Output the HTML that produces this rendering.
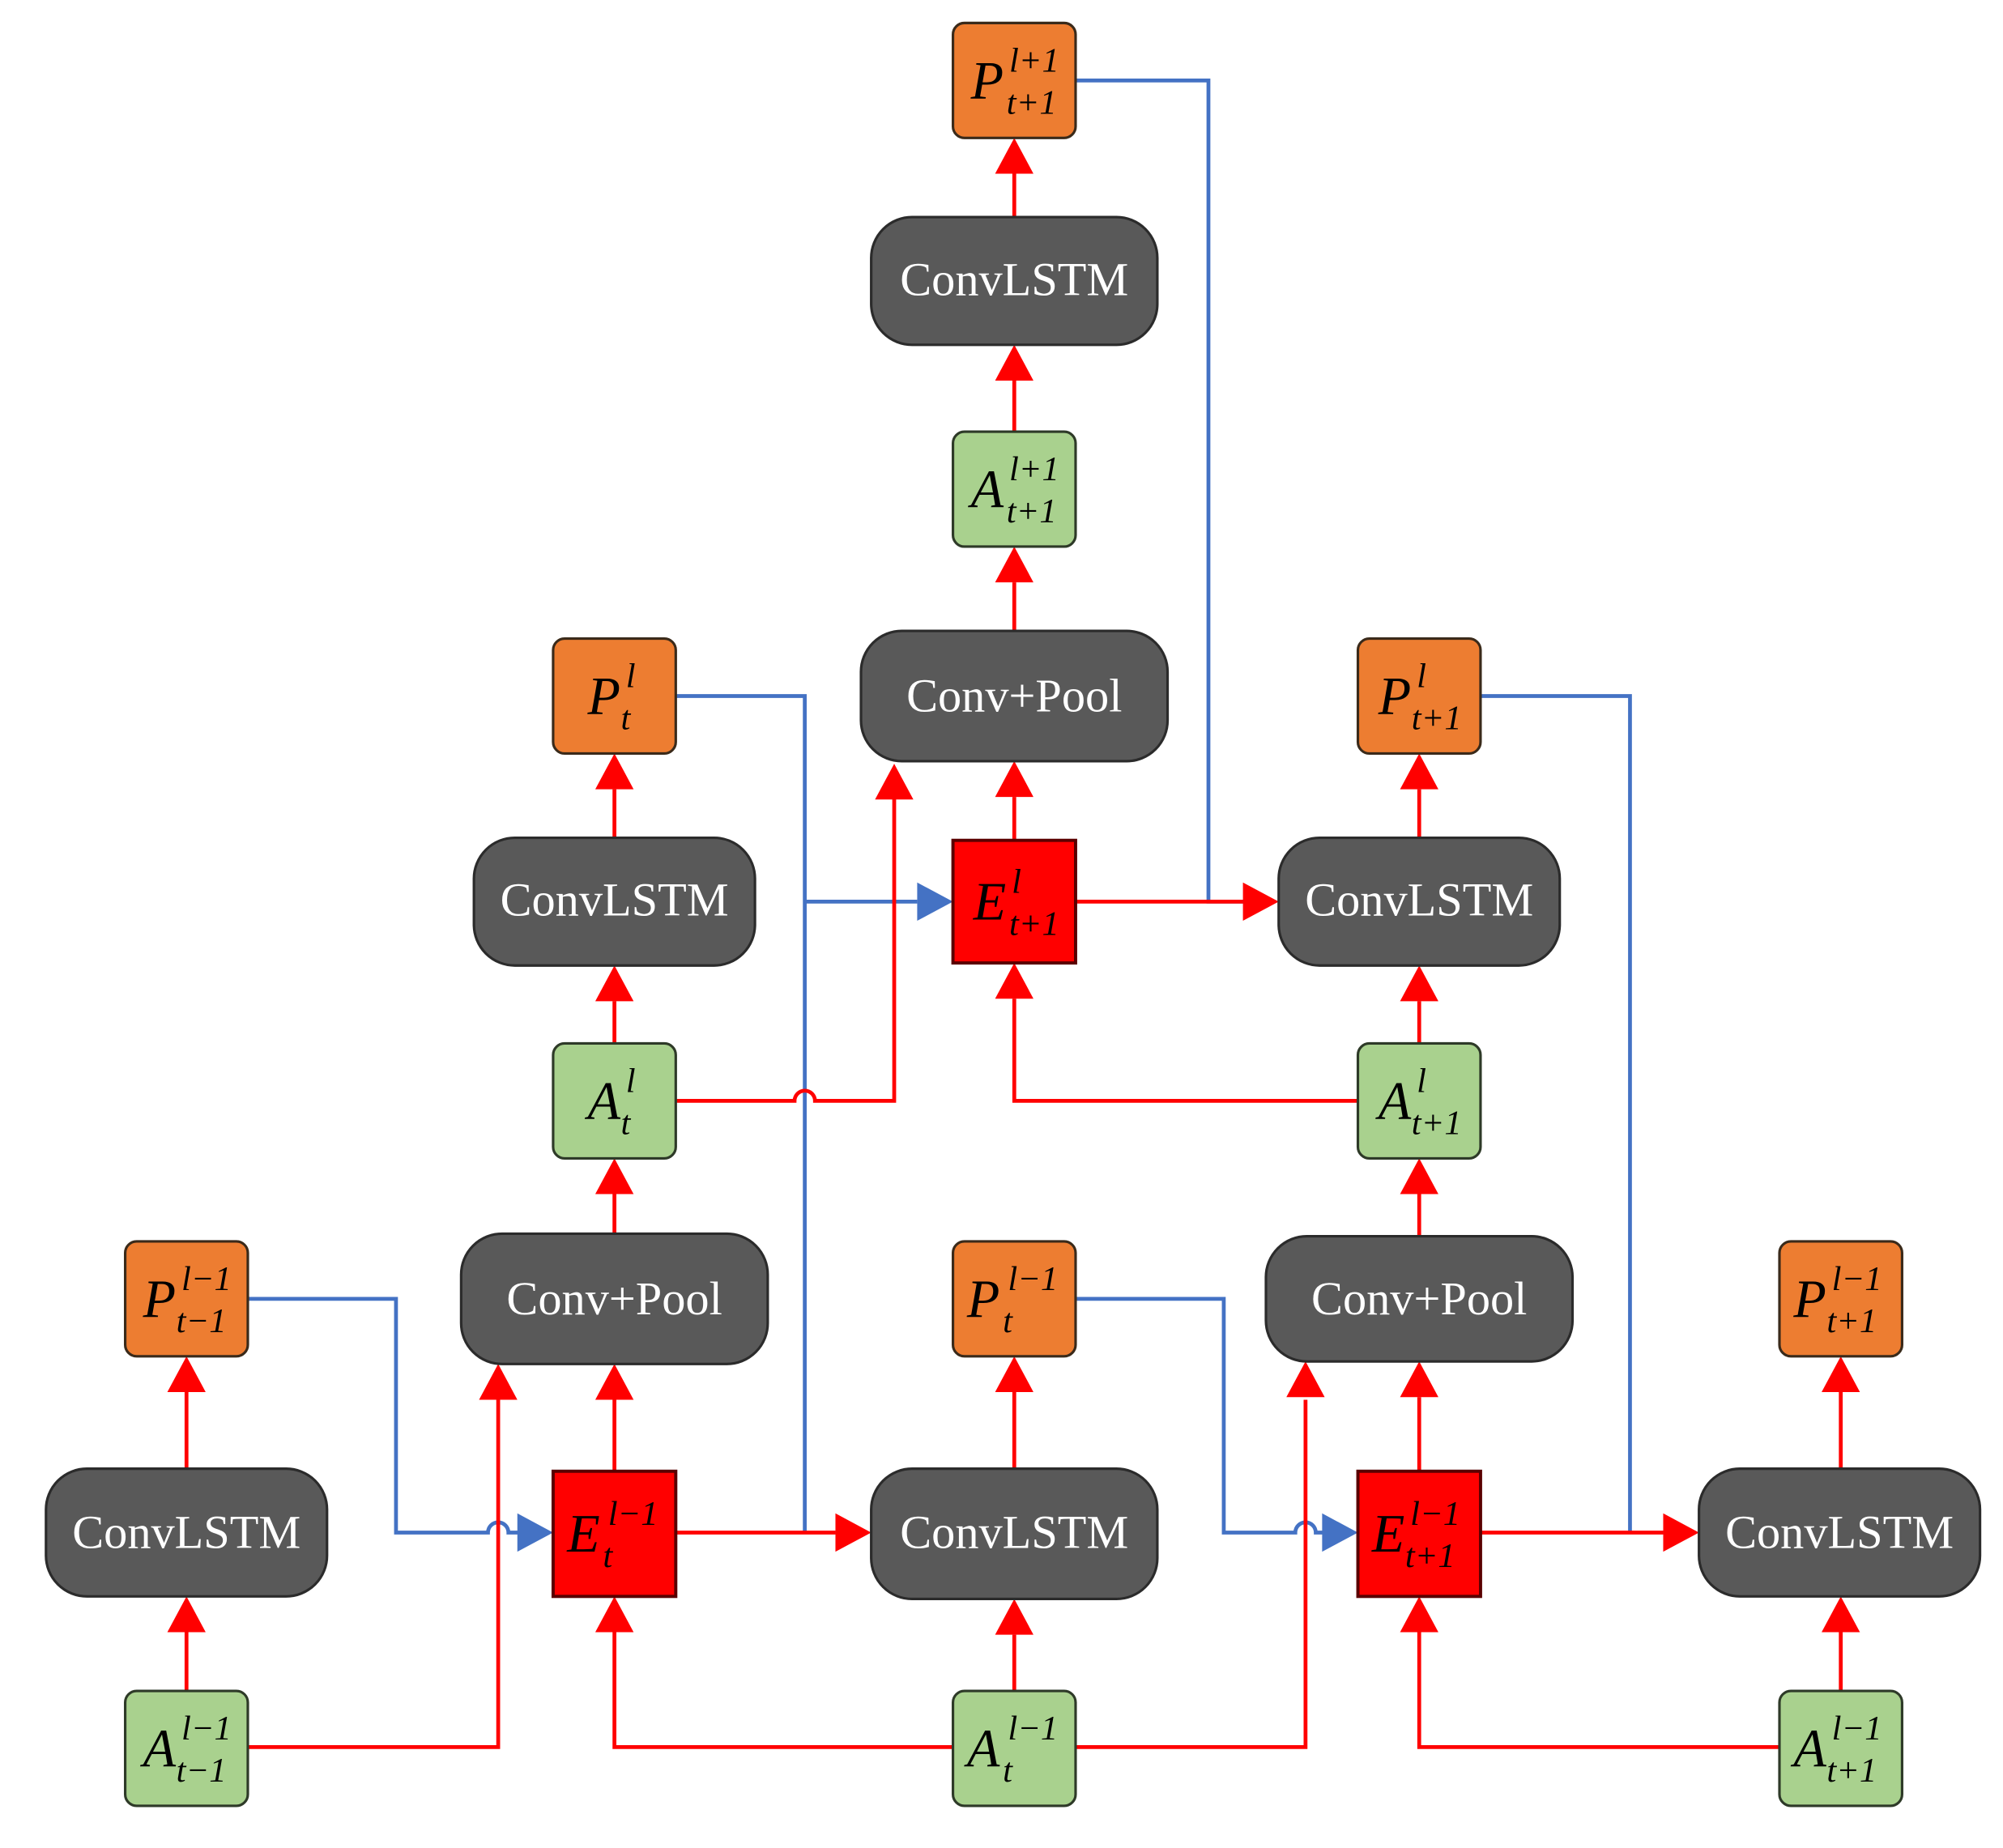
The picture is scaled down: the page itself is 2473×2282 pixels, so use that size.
<!DOCTYPE html>
<html><head><meta charset="utf-8"><style>
html,body{margin:0;padding:0;background:#fff}
svg{display:block}
.d{fill:#595959;stroke:#2b2b2b;stroke-width:2}
.o{fill:#ED7D31;stroke:#3a2a1a;stroke-width:2}
.g{fill:#A9D18E;stroke:#2e3a28;stroke-width:2}
.r{fill:#FF0000;stroke:#5a0000;stroke-width:2.5}
.w{fill:#fff;font-family:"Liberation Serif",serif;font-size:37px;text-anchor:middle}
.m{font-family:"Liberation Serif",serif;font-style:italic;fill:#000}
.L{font-size:42px}.s{font-size:27px}
.rl{fill:none;stroke:#FF0000;stroke-width:3}
.bl{fill:none;stroke:#4472C4;stroke-width:3}
.ra{fill:#FF0000}.ba{fill:#4472C4}
</style></head><body>
<svg width="2473" height="2282" viewBox="0 0 1568 1447" preserveAspectRatio="none" xmlns="http://www.w3.org/2000/svg">
<g>
<path class="bl" d="M842 63 H946 V706 H975"/>
<path class="bl" d="M529 545 H630 V1200"/>
<path class="bl" d="M630 706 H718"/>
<path class="bl" d="M1159 545 H1276 V1200"/>
<path class="bl" d="M194 1017 H310 V1200 H382 A8 8 0 0 1 398 1200 H406"/>
<path class="bl" d="M842 1017 H958 V1200 H1014 A8 8 0 0 1 1030 1200 H1036"/>
<polygon class="ba" points="746,706 718,691 718,721"/>
<polygon class="ba" points="433,1200 405,1185 405,1215"/>
<polygon class="ba" points="1063,1200 1035,1185 1035,1215"/>
<path class="rl" d="M794 170 V136 M794 338 V298 M794 494 V456 M794 658 V624
M481 656 V618 M481 817 V784 M481 966 V935 M481 1152 V1096
M1111 656 V618 M1111 817 V784 M1111 968 V935 M1111 1152 V1094
M146 1150 V1090 M146 1324 V1278
M794 1150 V1090 M794 1324 V1280
M1441 1150 V1090 M1441 1324 V1278"/>
<path class="rl" d="M194 1368 H390 V1096"/>
<path class="rl" d="M746 1368 H481 V1278"/>
<path class="rl" d="M842 1368 H1022 V1096"/>
<path class="rl" d="M1393 1368 H1111 V1278"/>
<path class="rl" d="M529 1200 H654"/>
<path class="rl" d="M1159 1200 H1302"/>
<path class="rl" d="M529 862 H622 A8 8 0 0 1 638 862 H700 V624"/>
<path class="rl" d="M1063 862 H794 V782"/>
<path class="rl" d="M842 706 H973"/>
<g class="ra">
<polygon points="794,108 779,136 809,136"/>
<polygon points="794,270 779,298 809,298"/>
<polygon points="794,428 779,456 809,456"/>
<polygon points="794,596 779,624 809,624"/>
<polygon points="700,598 685,626 715,626"/>
<polygon points="794,754 779,782 809,782"/>
<polygon points="1001,706 973,691 973,721"/>
<polygon points="481,590 466,618 496,618"/>
<polygon points="481,756 466,784 496,784"/>
<polygon points="481,907 466,935 496,935"/>
<polygon points="481,1068 466,1096 496,1096"/>
<polygon points="390,1068 375,1096 405,1096"/>
<polygon points="1111,590 1096,618 1126,618"/>
<polygon points="1111,756 1096,784 1126,784"/>
<polygon points="1111,907 1096,935 1126,935"/>
<polygon points="1111,1066 1096,1094 1126,1094"/>
<polygon points="1022,1066 1007,1094 1037,1094"/>
<polygon points="146,1062 131,1090 161,1090"/>
<polygon points="146,1250 131,1278 161,1278"/>
<polygon points="794,1062 779,1090 809,1090"/>
<polygon points="794,1252 779,1280 809,1280"/>
<polygon points="1441,1062 1426,1090 1456,1090"/>
<polygon points="1441,1250 1426,1278 1456,1278"/>
<polygon points="481,1250 466,1278 496,1278"/>
<polygon points="1111,1250 1096,1278 1126,1278"/>
<polygon points="682,1200 654,1185 654,1215"/>
<polygon points="1330,1200 1302,1185 1302,1215"/>
</g>
</g>
<rect class="d" x="682" y="170" width="224" height="100" rx="32"/>
<text class="w" x="794" y="231">ConvLSTM</text>
<rect class="d" x="674" y="494" width="240" height="102" rx="32"/>
<text class="w" x="794" y="557">Conv+Pool</text>
<rect class="d" x="371" y="656" width="220" height="100" rx="32"/>
<text class="w" x="481" y="717">ConvLSTM</text>
<rect class="d" x="1001" y="656" width="220" height="100" rx="32"/>
<text class="w" x="1111" y="717">ConvLSTM</text>
<rect class="d" x="361" y="966" width="240" height="102" rx="32"/>
<text class="w" x="481" y="1029">Conv+Pool</text>
<rect class="d" x="991" y="968" width="240" height="98" rx="32"/>
<text class="w" x="1111" y="1029">Conv+Pool</text>
<rect class="d" x="36" y="1150" width="220" height="100" rx="32"/>
<text class="w" x="146" y="1212">ConvLSTM</text>
<rect class="d" x="682" y="1150" width="224" height="102" rx="32"/>
<text class="w" x="794" y="1212">ConvLSTM</text>
<rect class="d" x="1330" y="1150" width="220" height="100" rx="32"/>
<text class="w" x="1440" y="1212">ConvLSTM</text>
<rect class="o" x="746" y="18" width="96" height="90" rx="9"/>
<text class="m"><tspan class="L" x="760" y="77">P</tspan><tspan class="s" x="790" y="56">l+1</tspan><tspan class="s" x="788" y="89">t+1</tspan></text>
<rect class="g" x="746" y="338" width="96" height="90" rx="9"/>
<text class="m"><tspan class="L" x="760" y="397">A</tspan><tspan class="s" x="790" y="376">l+1</tspan><tspan class="s" x="788" y="409">t+1</tspan></text>
<rect class="r" x="746" y="658" width="96" height="96"/>
<text class="m"><tspan class="L" x="762" y="720">E</tspan><tspan class="s" x="792" y="699">l</tspan><tspan class="s" x="790" y="732">t+1</tspan></text>
<rect class="o" x="433" y="500" width="96" height="90" rx="9"/>
<text class="m"><tspan class="L" x="460" y="559">P</tspan><tspan class="s" x="490" y="538">l</tspan><tspan class="s" x="486" y="571">t</tspan></text>
<rect class="g" x="433" y="817" width="96" height="90" rx="9"/>
<text class="m"><tspan class="L" x="460" y="876">A</tspan><tspan class="s" x="490" y="855">l</tspan><tspan class="s" x="486" y="888">t</tspan></text>
<rect class="o" x="1063" y="500" width="96" height="90" rx="9"/>
<text class="m"><tspan class="L" x="1079" y="559">P</tspan><tspan class="s" x="1109" y="538">l</tspan><tspan class="s" x="1105" y="571">t+1</tspan></text>
<rect class="g" x="1063" y="817" width="96" height="90" rx="9"/>
<text class="m"><tspan class="L" x="1079" y="876">A</tspan><tspan class="s" x="1109" y="855">l</tspan><tspan class="s" x="1105" y="888">t+1</tspan></text>
<rect class="o" x="98" y="972" width="96" height="90" rx="9"/>
<text class="m"><tspan class="L" x="112" y="1031">P</tspan><tspan class="s" x="142" y="1010">l−1</tspan><tspan class="s" x="138" y="1043">t−1</tspan></text>
<rect class="g" x="98" y="1324" width="96" height="90" rx="9"/>
<text class="m"><tspan class="L" x="112" y="1383">A</tspan><tspan class="s" x="142" y="1362">l−1</tspan><tspan class="s" x="138" y="1395">t−1</tspan></text>
<rect class="r" x="433" y="1152" width="96" height="98"/>
<text class="m"><tspan class="L" x="444" y="1215">E</tspan><tspan class="s" x="476" y="1194">l−1</tspan><tspan class="s" x="472" y="1227">t</tspan></text>
<rect class="o" x="746" y="972" width="96" height="90" rx="9"/>
<text class="m"><tspan class="L" x="757" y="1031">P</tspan><tspan class="s" x="789" y="1010">l−1</tspan><tspan class="s" x="785" y="1043">t</tspan></text>
<rect class="g" x="746" y="1324" width="96" height="90" rx="9"/>
<text class="m"><tspan class="L" x="757" y="1383">A</tspan><tspan class="s" x="789" y="1362">l−1</tspan><tspan class="s" x="785" y="1395">t</tspan></text>
<rect class="r" x="1063" y="1152" width="96" height="98"/>
<text class="m"><tspan class="L" x="1074" y="1215">E</tspan><tspan class="s" x="1104" y="1194">l−1</tspan><tspan class="s" x="1100" y="1227">t+1</tspan></text>
<rect class="o" x="1393" y="972" width="96" height="90" rx="9"/>
<text class="m"><tspan class="L" x="1404" y="1031">P</tspan><tspan class="s" x="1434" y="1010">l−1</tspan><tspan class="s" x="1430" y="1043">t+1</tspan></text>
<rect class="g" x="1393" y="1324" width="96" height="90" rx="9"/>
<text class="m"><tspan class="L" x="1404" y="1383">A</tspan><tspan class="s" x="1434" y="1362">l−1</tspan><tspan class="s" x="1430" y="1395">t+1</tspan></text>
</svg>
</body></html>
